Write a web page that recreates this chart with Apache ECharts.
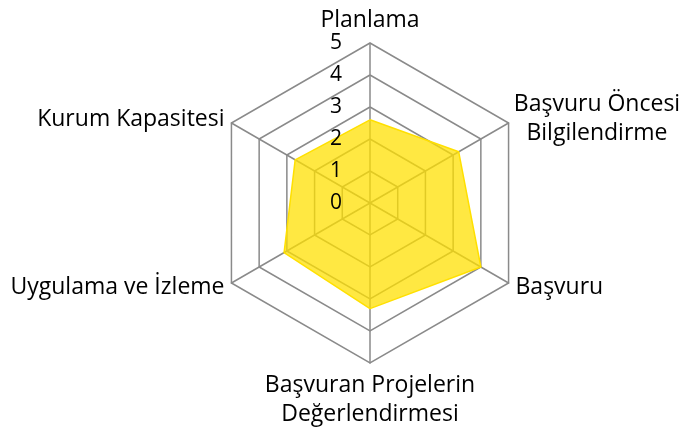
<!DOCTYPE html>
<html><head><meta charset="utf-8">
<script src="https://cdn.jsdelivr.net/npm/echarts@6/dist/echarts.min.js"></script>
<style>html,body{margin:0;padding:0;background:#fff}#c{width:679px;height:436px}</style>
</head><body><div id="c"></div>
<script>
// indicators in reading order (clockwise from top)
var categories = ['Planlama', 'Başvuru Öncesi\nBilgilendirme', 'Başvuru', 'Başvuran Projelerin\nDeğerlendirmesi', 'Uygulama ve İzleme', 'Kurum Kapasitesi'];
var values = [2.6, 3.2, 4.0, 3.3, 3.1, 2.7];
var maxValue = 5;

// ECharts lays radar indicators counter-clockwise; reverse all but the first
var order = [0, 5, 4, 3, 2, 1];
var indicators = order.map(function (i) {
  return { name: categories[i], min: 0, max: maxValue };
});
var labelIndicators = order.map(function (i, k) {
  var ind = { name: categories[i], min: 0, max: maxValue };
  if (k === 0) ind.axisLabel = { show: true };
  return ind;
});
var seriesValues = order.map(function (i) { return values[i]; });

var font = 'Open Sans';
var common = {
  center: [370, 203],
  radius: 160,
  startAngle: 90,
  splitNumber: 5,
  shape: 'polygon',
  axisTick: { show: false },
  splitArea: { show: false }
};

var chart = echarts.init(document.getElementById('c'));
chart.setOption({
  animation: false,
  radar: [
    Object.assign({}, common, {
      z: 0,
      indicator: indicators,
      axisName: {
        color: '#000', fontSize: 23, fontFamily: font, lineHeight: 29,
        formatter: function (name) {
          if (name.indexOf('\n') < 0) return name;
          var w = name.indexOf('Öncesi') >= 0 ? 'a' : 'b';
          return name.split('\n').map(function (s) { return '{' + w + '|' + s + '}'; }).join('\n');
        },
        rich: {
          a: { width: 163, align: 'center', fontSize: 23, fontFamily: font, lineHeight: 29, color: '#000' },
          b: { width: 210, align: 'center', fontSize: 23, fontFamily: font, lineHeight: 29, color: '#000' }
        }
      },
      nameGap: 8,
      axisLine: { lineStyle: { color: '#8a8a8a', width: 1.5 } },
      splitLine: { lineStyle: { color: '#8a8a8a', width: 1.5 } },
      axisLabel: { show: false }
    }),
    Object.assign({}, common, {
      z: 10,
      indicator: labelIndicators,
      axisName: { show: false },
      axisLine: { show: false },
      splitLine: { show: false },
      axisLabel: { show: false, color: '#000', fontSize: 21, fontFamily: font, margin: 28 }
    })
  ],
  series: [{
    type: 'radar',
    radarIndex: 0,
    z: 2,
    symbol: 'none',
    lineStyle: { color: '#ffe000', width: 1.5 },
    areaStyle: { color: '#ffe000', opacity: 0.74 },
    data: [{ value: seriesValues }]
  }]
});
</script></body></html>
